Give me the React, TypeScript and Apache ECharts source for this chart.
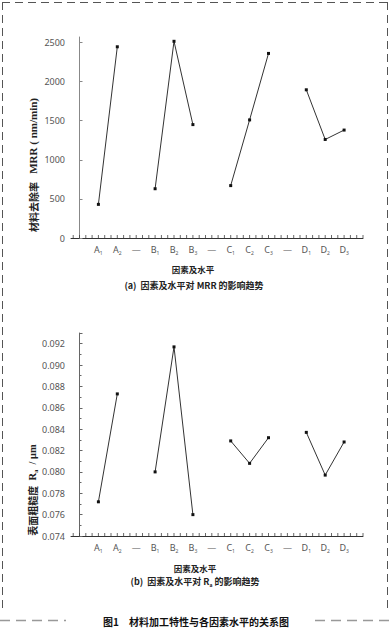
import React, { useEffect, useRef } from 'react';
import * as echarts from 'echarts';

// Factor levels along the x axis ("—" marks a separator slot)
const categories = ['A1', 'A2', '—', 'B1', 'B2', 'B3', '—', 'C1', 'C2', 'C3', '—', 'D1', 'D2', 'D3'];
// (a) MRR, nm/min
const mrrValues: (number | null)[] = [430, 2445, null, 630, 2515, 1450, null, 670, 1510, 2360, null, 1895, 1260, 1380];
// (b) Ra, μm
const raValues: (number | null)[] = [0.0772, 0.0873, null, 0.08, 0.0917, 0.076, null, 0.0829, 0.0808, 0.0832, null, 0.0837, 0.0797, 0.0828];

const CJK = '"Noto Sans CJK SC", sans-serif';
const SERIF = '"Liberation Serif", serif';
const SANS = '"Noto Sans", "Open Sans", sans-serif';

export default function App() {
  const ref = useRef<HTMLDivElement>(null);
  useEffect(() => {
    document.body.style.margin = '0';
    const chart = echarts.init(ref.current!, null, { renderer: 'svg' });

    const labelPositions = categories.map((_, i) => i + 1);
    // x-axis tick marks every third of a category step
    const xTickPositions: number[] = [];
    for (let k = -1; k <= 45; k++) xTickPositions.push(k / 3);

    const xLabelFormatter = (val: number) => {
      const c = categories[Math.round(val) - 1];
      if (!c) return '';
      if (c === '—') return '{m|—}';
      return `{m|${c[0]}}{s|${c.slice(1)}}`;
    };
    const xRich = {
      m: { fontSize: 9, color: '#555', fontFamily: SANS, lineHeight: 12 },
      s: { fontSize: 5, color: '#555', fontFamily: SANS, verticalAlign: 'bottom' as const },
    };

    const makeX = (gridIndex: number) => ({
      type: 'value' as const,
      gridIndex,
      min: -0.45,
      max: 15,
      axisLine: { show: true, lineStyle: { color: '#333', width: 1 } },
      axisTick: { show: false },
      axisLabel: { customValues: labelPositions, formatter: xLabelFormatter, rich: xRich, margin: 5 },
      splitLine: { show: false },
    });

    const tickSeries = (idx: number, base: number) => ({
      type: 'scatter',
      xAxisIndex: idx,
      yAxisIndex: idx,
      silent: true,
      clip: false,
      symbol: 'rect',
      symbolSize: [1, 3],
      symbolOffset: [0, -1.5],
      itemStyle: { color: '#444' },
      data: xTickPositions.map((p) => [p, base]),
      z: 1,
    });

    const option: any = {
      animation: false,
      backgroundColor: '#fff',
      grid: [
        { left: 71, right: 26, top: 37, height: 201 },
        { left: 71, right: 26, top: 333, height: 203 },
      ],
      xAxis: [makeX(0), makeX(1)],
      yAxis: [
        {
          type: 'value',
          gridIndex: 0,
          min: 0,
          max: 2570,
          interval: 500,
          axisLine: { show: true, lineStyle: { color: '#888', width: 1 } },
          axisTick: { show: true, inside: true, length: 3, lineStyle: { color: '#888' } },
          axisLabel: {
            showMaxLabel: false,
            fontSize: 9,
            color: '#555',
            fontFamily: SANS,
            margin: 6,
            formatter: (v: number) => String(Math.round(v)),
          },
          splitLine: { show: false },
        },
        {
          type: 'value',
          gridIndex: 1,
          min: 0.074,
          max: 0.093,
          interval: 0.002,
          axisLine: { show: true, lineStyle: { color: '#666', width: 1 } },
          axisTick: { show: true, inside: true, length: 3, lineStyle: { color: '#666' } },
          minorTick: { show: true, splitNumber: 2, length: 2, lineStyle: { color: '#666' } },
          axisLabel: {
            showMaxLabel: false,
            fontSize: 9,
            color: '#555',
            fontFamily: SANS,
            margin: 6,
            formatter: (v: number) => v.toFixed(3),
          },
          splitLine: { show: false },
        },
      ],
      series: [
        tickSeries(0, 0),
        tickSeries(1, 0.074),
        {
          type: 'line',
          xAxisIndex: 0,
          yAxisIndex: 0,
          data: mrrValues.map((v, i) => [i + 1, v == null ? '-' : v]),
          symbol: 'rect',
          symbolSize: 3,
          lineStyle: { color: '#333', width: 1 },
          itemStyle: { color: '#111' },
          connectNulls: false,
          z: 3,
        },
        {
          type: 'line',
          xAxisIndex: 1,
          yAxisIndex: 1,
          data: raValues.map((v, i) => [i + 1, v == null ? '-' : v]),
          symbol: 'rect',
          symbolSize: 3,
          lineStyle: { color: '#333', width: 1 },
          itemStyle: { color: '#111' },
          connectNulls: false,
          z: 3,
        },
      ],
      graphic: [
        // dashed frame
        { type: 'line', shape: { x1: 2, y1: 2.5, x2: 387, y2: 2.5 }, style: { stroke: '#555', lineWidth: 1, lineDash: [8, 5] } },
        { type: 'line', shape: { x1: 2.5, y1: 2, x2: 2.5, y2: 612 }, style: { stroke: '#555', lineWidth: 1, lineDash: [8, 5] } },
        { type: 'line', shape: { x1: 387.5, y1: 2, x2: 387.5, y2: 612 }, style: { stroke: '#555', lineWidth: 1, lineDash: [8, 5] } },
        { type: 'line', shape: { x1: 0, y1: 620.5, x2: 66, y2: 620.5 }, style: { stroke: '#999', lineWidth: 1.5, lineDash: [10, 6] } },
        { type: 'line', shape: { x1: 315, y1: 620.5, x2: 389, y2: 620.5 }, style: { stroke: '#999', lineWidth: 1.5, lineDash: [10, 6] } },
        // y-axis names
        {
          type: 'text',
          x: 33,
          y: 165,
          rotation: Math.PI / 2,
          style: {
            text: '{c|材料去除率}{l|   MRR ( nm/min)}',
            align: 'center',
            verticalAlign: 'middle',
            rich: {
              c: { fontFamily: CJK, fontWeight: 'bold', fontSize: 10, fill: '#222' },
              l: { fontFamily: SERIF, fontWeight: 'bold', fontSize: 11, fill: '#222' },
            },
          },
        },
        {
          type: 'text',
          x: 32,
          y: 490,
          rotation: Math.PI / 2,
          style: {
            text: '{c|表面粗糙度}{l|  R}{s|a}{l|  / μm}',
            align: 'center',
            verticalAlign: 'middle',
            rich: {
              c: { fontFamily: CJK, fontWeight: 'bold', fontSize: 10, fill: '#222', lineHeight: 13 },
              l: { fontFamily: SERIF, fontWeight: 'bold', fontSize: 10.5, fill: '#222', lineHeight: 13 },
              s: { fontFamily: SERIF, fontWeight: 'bold', fontSize: 6, fill: '#222', verticalAlign: 'bottom' },
            },
          },
        },
        // x-axis names
        {
          type: 'text', x: 193, y: 269,
          style: { text: '因素及水平', align: 'center', verticalAlign: 'middle', fontFamily: CJK, fontWeight: 'bold', fontSize: 8.5, fill: '#222' },
        },
        {
          type: 'text', x: 195, y: 568,
          style: { text: '因素及水平', align: 'center', verticalAlign: 'middle', fontFamily: CJK, fontWeight: 'bold', fontSize: 8.5, fill: '#222' },
        },
        // sub-captions
        {
          type: 'text', x: 194, y: 285,
          style: {
            text: '(a)  因素及水平对 MRR 的影响趋势',
            align: 'center', verticalAlign: 'middle', fontFamily: CJK, fontWeight: 'bold', fontSize: 9, fill: '#222',
          },
        },
        {
          type: 'text', x: 195, y: 581,
          style: {
            text: '{n|(b)  因素及水平对 R}{s|a}{n| 的影响趋势}',
            align: 'center', verticalAlign: 'middle',
            rich: {
              n: { fontFamily: CJK, fontWeight: 'bold', fontSize: 9, fill: '#222', lineHeight: 12 },
              s: { fontFamily: CJK, fontWeight: 'bold', fontSize: 5, fill: '#222', verticalAlign: 'bottom' },
            },
          },
        },
        // figure caption
        {
          type: 'text', x: 196, y: 621,
          style: {
            text: '图1　材料加工特性与各因素水平的关系图',
            align: 'center', verticalAlign: 'middle', fontFamily: CJK, fontWeight: 'bold', fontSize: 10, fill: '#111',
          },
        },
      ],
    };

    chart.setOption(option);
    return () => chart.dispose();
  }, []);
  return <div ref={ref} style={{ width: 389, height: 629 }} />;
}
